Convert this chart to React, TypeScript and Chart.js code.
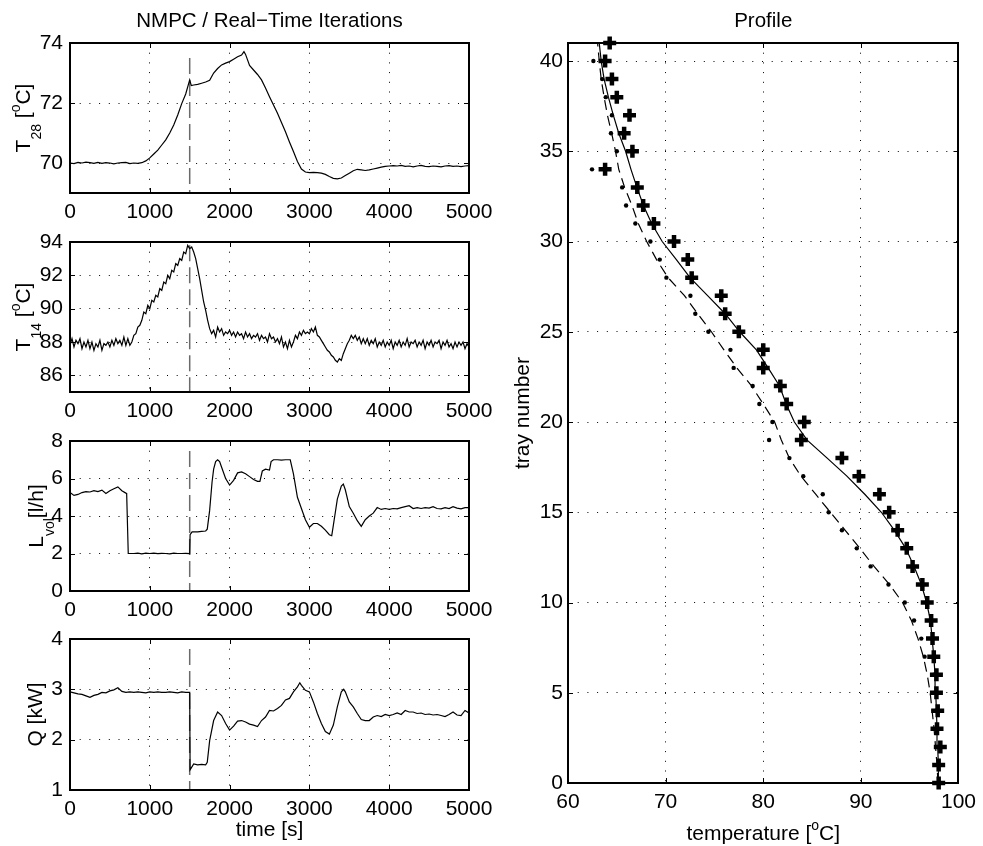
import React, { useEffect, useRef } from 'react';
import { Chart, registerables } from 'chart.js';

Chart.register(...registerables);

const FONT = "'Liberation Sans', Arial, Helvetica, sans-serif";
const TICK_SIZE = 21;

// ---------------- data: left column (time series) ----------------
const TIME_TICKS = [0, 1000, 2000, 3000, 4000, 5000];
const SWITCH_TIME = 1500;

const T28_TICKS = [70, 72, 74];
const T28_TIME = [
  0, 50, 100, 150, 200, 250, 300, 350, 400, 450, 500, 550, 600, 650, 700, 750, 800, 850, 900, 950,
  1000, 1050, 1100, 1150, 1200, 1250, 1300, 1350, 1400, 1450, 1500, 1520, 1550, 1600, 1650, 1700, 1750, 1800, 1850, 1900,
  1950, 2000, 2050, 2100, 2150, 2180, 2200, 2250, 2300, 2350, 2400, 2450, 2500, 2550, 2600, 2650, 2700, 2750, 2800, 2850,
  2900, 2950, 3000, 3050, 3100, 3150, 3200, 3250, 3300, 3350, 3400, 3450, 3500, 3550, 3600, 3650, 3700, 3750, 3800, 3850,
  3900, 3950, 4000, 4050, 4100, 4150, 4200, 4250, 4300, 4350, 4400, 4450, 4500, 4550, 4600, 4650, 4700, 4750, 4800, 4850,
  4900, 4950, 5000,
];
const T28_VALUES = [
  70.0, 69.98, 70.02, 70.0, 70.03, 70.01, 69.99, 70.02, 69.99, 70.01, 70.0, 69.97, 70.0, 70.01, 70.02, 69.98, 70.0, 69.99, 70.01, 70.07,
  70.17, 70.3, 70.43, 70.6, 70.77, 71.0, 71.27, 71.6, 71.98, 72.3, 72.77, 72.58, 72.6, 72.62, 72.66, 72.7, 72.76, 73.0, 73.15, 73.27,
  73.33, 73.38, 73.46, 73.54, 73.6, 73.71, 73.62, 73.25, 73.1, 72.95, 72.77, 72.5, 72.21, 71.93, 71.66, 71.35, 71.04, 70.7, 70.38, 70.05,
  69.8, 69.7, 69.68, 69.69, 69.68, 69.66, 69.62, 69.55, 69.49, 69.47, 69.5, 69.58, 69.66, 69.74, 69.79, 69.77, 69.75, 69.77, 69.8, 69.83,
  69.86, 69.89, 69.9, 69.91, 69.9, 69.92, 69.89, 69.9, 69.87, 69.9, 69.92, 69.89, 69.88, 69.9, 69.89, 69.87, 69.9, 69.91, 69.89, 69.9,
  69.88, 69.9, 69.91,
];

const T14_TICKS = [86, 88, 90, 92, 94];
const T14_TIME = [
  0, 25, 50, 75, 100, 125, 150, 175, 200, 225, 250, 275, 300, 325, 350, 375, 400, 425, 450, 475,
  500, 525, 550, 575, 600, 625, 650, 675, 700, 725, 750, 775, 800, 825, 850, 875, 900, 925, 950, 975,
  1000, 1025, 1050, 1075, 1100, 1125, 1150, 1175, 1200, 1225, 1250, 1275, 1300, 1325, 1350, 1375, 1400, 1425, 1450, 1475,
  1500, 1525, 1550, 1575, 1600, 1625, 1650, 1675, 1700, 1725, 1750, 1775, 1800, 1825, 1850, 1875, 1900, 1925, 1950, 1975,
  2000, 2025, 2050, 2075, 2100, 2125, 2150, 2175, 2200, 2225, 2250, 2275, 2300, 2325, 2350, 2375, 2400, 2425, 2450, 2475,
  2500, 2525, 2550, 2575, 2600, 2625, 2650, 2675, 2700, 2725, 2750, 2775, 2800, 2825, 2850, 2875, 2900, 2925, 2950, 2975,
  3000, 3025, 3050, 3075, 3100, 3125, 3150, 3175, 3200, 3225, 3250, 3275, 3300, 3325, 3350, 3375, 3400, 3425, 3450, 3475,
  3500, 3525, 3550, 3575, 3600, 3625, 3650, 3675, 3700, 3725, 3750, 3775, 3800, 3825, 3850, 3875, 3900, 3925, 3950, 3975,
  4000, 4025, 4050, 4075, 4100, 4125, 4150, 4175, 4200, 4225, 4250, 4275, 4300, 4325, 4350, 4375, 4400, 4425, 4450, 4475,
  4500, 4525, 4550, 4575, 4600, 4625, 4650, 4675, 4700, 4725, 4750, 4775, 4800, 4825, 4850, 4875, 4900, 4925, 4950, 4975,
  5000,
];
const T14_VALUES = [
  87.8, 88.2, 87.7, 88.1, 87.9, 88.2, 87.6, 88.0, 87.7, 88.1, 87.6, 88.0, 87.5, 87.9, 87.7, 88.1, 87.5, 87.9, 87.8, 88.0,
  87.7, 88.1, 87.8, 88.2, 87.9, 88.1, 87.8, 88.3, 87.8, 88.2, 87.8, 88.0, 88.4, 88.5, 88.9, 89.0, 89.3, 89.8, 89.7, 90.2,
  90.0, 90.5, 90.4, 90.8, 90.7, 91.2, 91.1, 91.6, 91.5, 92.0, 91.8, 92.3, 92.2, 92.7, 92.6, 93.0, 92.9, 93.4, 93.3, 93.8,
  93.6, 93.7, 93.4, 93.0, 92.4, 91.8, 91.1, 90.4, 89.9, 89.3, 88.8, 88.5, 88.7, 88.3, 88.9, 88.6, 88.8, 88.4, 88.6, 88.5,
  88.7, 88.4, 88.6, 88.3, 88.6, 88.4, 88.5, 88.2, 88.6, 88.3, 88.5, 88.2, 88.4, 88.3, 88.5, 88.1, 88.4, 88.2, 88.3, 88.0,
  88.5, 88.2, 88.3, 88.0, 88.2, 87.9, 88.3, 87.7, 88.0, 87.6, 88.1, 87.7, 88.0, 88.4, 88.2, 88.6, 88.4, 88.7, 88.5, 88.6,
  88.5, 88.8, 88.6, 88.9, 88.4, 88.3, 88.1, 87.9, 87.7, 87.5, 87.4, 87.2, 87.1, 86.9, 86.8, 87.0, 86.9, 87.3, 87.6, 87.9,
  88.1, 88.4, 88.2, 88.4, 88.1, 88.3, 87.9, 88.2, 87.9, 88.2, 87.8, 88.1, 87.9, 88.2, 87.7, 88.0, 87.8, 88.1, 87.7, 88.0,
  87.8, 88.1, 87.6, 88.0, 87.8, 88.1, 87.7, 88.0, 87.8, 88.2, 87.7, 88.0, 87.9, 88.1, 87.7, 88.0, 87.8, 88.1, 87.6, 88.0,
  87.8, 88.1, 87.7, 88.0, 87.9, 88.1, 87.6, 88.0, 87.8, 88.1, 87.7, 87.9, 87.6, 88.0, 87.7, 88.0, 87.8, 88.0, 87.6, 87.9,
  87.7,
];

const LVOL_TICKS = [0, 2, 4, 6, 8];
const LVOL_TIME = [
  0, 50, 100, 150, 200, 250, 300, 350, 400, 450, 500, 550, 600, 650, 700, 710, 730, 800, 850, 900,
  950, 1000, 1050, 1100, 1150, 1200, 1250, 1300, 1350, 1400, 1450, 1500, 1505, 1530, 1600, 1650, 1700, 1720, 1750, 1780,
  1800, 1825, 1850, 1875, 1900, 1950, 2000, 2050, 2100, 2150, 2200, 2250, 2300, 2350, 2380, 2410, 2450, 2500, 2520, 2550,
  2600, 2650, 2700, 2760, 2800, 2850, 2900, 2950, 3000, 3050, 3100, 3150, 3200, 3250, 3280, 3300, 3350, 3400, 3425, 3450,
  3500, 3550, 3600, 3650, 3700, 3750, 3800, 3850, 3900, 3950, 4000, 4050, 4100, 4150, 4200, 4250, 4300, 4350, 4400, 4450,
  4500, 4550, 4600, 4650, 4700, 4750, 4800, 4850, 4900, 4950, 5000,
];
const LVOL_VALUES = [
  5.25, 5.1, 5.15, 5.25, 5.3, 5.28, 5.35, 5.3, 5.38, 5.2, 5.35, 5.45, 5.55, 5.35, 5.22, 5.2, 2.0, 2.0, 2.02, 1.98,
  2.02, 2.0, 2.02, 1.99, 2.01, 2.0, 1.98, 2.02, 2.0, 2.0, 2.01, 2.0, 3.0, 3.15, 3.15, 3.18, 3.2, 3.3, 4.3, 5.8,
  6.5, 6.9, 7.0, 6.9, 6.6, 6.0, 5.65, 5.9, 6.3, 6.35, 6.25, 6.1, 5.95, 5.85, 5.85, 6.4, 6.5, 6.45, 6.9, 7.0,
  7.0, 6.98, 7.0, 7.0, 6.25, 5.0, 4.4, 3.8, 3.4, 3.6, 3.6, 3.45, 3.25, 3.0, 2.95, 3.5, 4.9, 5.6, 5.7, 5.4,
  4.5, 4.15, 3.75, 3.45, 3.8, 4.0, 4.15, 4.45, 4.35, 4.4, 4.35, 4.4, 4.38, 4.45, 4.5, 4.55, 4.4, 4.45, 4.4, 4.45,
  4.42, 4.5, 4.4, 4.38, 4.45, 4.4, 4.5, 4.42, 4.38, 4.45, 4.45,
];

const Q_TICKS = [1, 2, 3, 4];
const Q_TIME = [
  0, 50, 100, 150, 200, 250, 300, 350, 400, 450, 500, 550, 600, 650, 700, 750, 800, 850, 900, 950,
  1000, 1050, 1100, 1150, 1200, 1250, 1300, 1350, 1400, 1450, 1500, 1505, 1550, 1600, 1650, 1700, 1720, 1750, 1800, 1850,
  1900, 1950, 2000, 2050, 2100, 2150, 2200, 2250, 2300, 2350, 2400, 2450, 2500, 2550, 2600, 2650, 2700, 2750, 2800, 2850,
  2880, 2900, 2950, 3000, 3050, 3100, 3150, 3200, 3250, 3300, 3350, 3400, 3430, 3450, 3500, 3550, 3600, 3650, 3700, 3750,
  3800, 3850, 3900, 3950, 4000, 4050, 4100, 4150, 4200, 4250, 4300, 4350, 4400, 4450, 4500, 4550, 4600, 4650, 4700, 4750,
  4800, 4850, 4900, 4950, 5000,
];
const Q_VALUES = [
  2.95, 2.93, 2.91, 2.9, 2.87, 2.84, 2.88, 2.9, 2.94, 2.93, 2.97, 2.99, 3.03, 2.96, 2.94, 2.95, 2.94, 2.95, 2.94, 2.93,
  2.95, 2.94, 2.95, 2.94, 2.94, 2.95, 2.94, 2.93, 2.95, 2.94, 2.94, 1.4, 1.52, 1.5, 1.51, 1.5, 1.55, 1.98, 2.38, 2.55,
  2.48, 2.32, 2.19, 2.27, 2.37, 2.38, 2.35, 2.31, 2.29, 2.26, 2.38, 2.45, 2.58, 2.57, 2.62, 2.68, 2.79, 2.82, 2.95, 3.05,
  3.13, 3.08, 2.98, 2.95, 2.75, 2.52, 2.32, 2.16, 2.11, 2.29, 2.65, 2.95, 3.0, 2.95, 2.75, 2.65, 2.52, 2.4, 2.38, 2.38,
  2.45, 2.48, 2.46, 2.5, 2.48, 2.5, 2.53, 2.5, 2.58, 2.55, 2.55, 2.52, 2.53, 2.5, 2.51, 2.49, 2.5, 2.48, 2.46, 2.5,
  2.55, 2.49, 2.48, 2.58, 2.53,
];

// top end of the dashed switch marker in each panel
const MARK_TOP = [73.5, 93.8, 7.47, 3.8];

// ---------------- data: right column (profile) ----------------
const TEMP_TICKS = [60, 70, 80, 90, 100];
const TRAY_TICKS = [0, 5, 10, 15, 20, 25, 30, 35, 40];
const TRAYS = [
  0, 1, 2, 3, 4, 5, 6, 7, 8, 9, 10, 11, 12, 13, 14, 15, 16, 17, 18, 19, 20,
  21, 22, 23, 24, 25, 26, 27, 28, 29, 30, 31, 32, 33, 34, 35, 36, 37, 38, 39, 40, 41,
];
const MODEL_NEW = [
  98.0, 97.94, 97.87, 97.8, 97.74, 97.67, 97.6, 97.47, 97.3, 97.13, 96.73, 96.2, 95.45, 94.6, 93.44, 92.1, 90.4, 88.57, 86.55, 84.5, 83.19,
  82.35, 81.67, 80.5, 79.3, 77.58, 76.1, 74.3, 72.5, 71.1, 69.65, 68.57, 67.73, 67.06, 66.45, 65.9, 65.2, 64.64, 64.14, 63.7, 63.4, 63.2,
];
const MODEL_OLD = [
  97.9, 97.8, 97.65, 97.5, 97.3, 97.1, 96.8, 96.4, 95.85, 95.18, 94.27, 92.93, 91.35, 89.9, 88.4, 86.88, 85.37, 83.86, 82.68, 81.85, 81.17,
  80.0, 78.8, 77.3, 75.97, 74.69, 73.28, 71.93, 70.25, 69.07, 68.06, 67.2, 66.55, 65.8, 65.2, 64.87, 64.47, 64.04, 63.7, 63.4, 63.2, 63.03,
];
const MEAS_NEW = [
  97.97, 97.97, 98.14, 97.8, 97.87, 97.74, 97.74, 97.47, 97.34, 97.2, 96.8, 96.3, 95.3, 94.7, 93.77, 92.9, 91.9, 89.8, 88.06, 83.9, 84.2,
  82.4, 81.75, 80.0, 80.0, 77.5, 76.1, 75.7, 72.67, 72.27, 70.86, 68.8, 67.7, 67.1, 63.8, 66.6, 65.75, 66.3, 65.0, 64.5, 63.8, 64.27,
];
const MEAS_OLD = [
  97.95, 97.9, 97.9, 97.75, 97.7, 97.6, 97.5, 96.53, 96.19, 95.45, 94.5, 92.83, 91.0, 89.58, 88.06, 86.7, 86.1, 84.1, 82.68, 80.6, 80.94,
  79.6, 78.92, 76.97, 76.64, 74.38, 73.04, 72.54, 70.08, 69.4, 68.44, 66.9, 65.95, 65.55, 62.46, 65.0, 64.4, 64.5, 63.87, 63.5, 62.6,
];

// ---------------- helpers ----------------
type Seg = { t: string; k?: 'sub' | 'sup' };

const pairs = (xs: number[], ys: number[]) => {
  const n = Math.min(xs.length, ys.length);
  const out: { x: number; y: number }[] = [];
  for (let i = 0; i < n; i++) out.push({ x: xs[i], y: ys[i] });
  return out;
};

function drawRich(ctx: CanvasRenderingContext2D, segs: Seg[], x: number, y: number, rotate: boolean, size: number) {
  const small = Math.round(size * 0.68);
  ctx.save();
  ctx.translate(x, y);
  if (rotate) ctx.rotate(-Math.PI / 2);
  ctx.textBaseline = 'alphabetic';
  ctx.textAlign = 'left';
  ctx.fillStyle = '#000';
  let total = 0;
  const widths = segs.map((s) => {
    ctx.font = `${s.k ? small : size}px ${FONT}`;
    const w = ctx.measureText(s.t).width;
    total += w;
    return w;
  });
  let cx = -total / 2;
  segs.forEach((s, i) => {
    ctx.font = `${s.k ? small : size}px ${FONT}`;
    const dy = s.k === 'sub' ? 11 : s.k === 'sup' ? -10 : 0;
    ctx.fillText(s.t, cx, dy);
    cx += widths[i];
  });
  ctx.restore();
}

interface Panel {
  box: { left: number; top: number; width: number; height: number };
  area: { l: number; t: number; r: number; b: number };
  xMin: number; xMax: number; xTicks: number[];
  yMin: number; yMax: number; yTicks: number[];
  yTickPad: number;
  datasets: any[];
  yTitle: { segs: Seg[]; x: number };
  xTitle?: { segs: Seg[]; y: number };
  title?: { text: string; y: number };
}

function decor(p: Panel) {
  return {
    id: 'decor',
    afterDraw(chart: any) {
      const ctx: CanvasRenderingContext2D = chart.ctx;
      const a = chart.chartArea;
      const xs = chart.scales.x;
      const ys = chart.scales.y;
      const ox = p.box.left;
      const oy = p.box.top;
      ctx.save();
      ctx.strokeStyle = '#000';
      ctx.lineWidth = 1;
      ctx.beginPath();
      p.xTicks.forEach((v) => {
        const q = Math.round(xs.getPixelForValue(v)) + 0.5;
        ctx.moveTo(q, a.bottom); ctx.lineTo(q, a.bottom - 5);
        ctx.moveTo(q, a.top); ctx.lineTo(q, a.top + 5);
      });
      p.yTicks.forEach((v) => {
        const q = Math.round(ys.getPixelForValue(v)) + 0.5;
        ctx.moveTo(a.left, q); ctx.lineTo(a.left + 5, q);
        ctx.moveTo(a.right, q); ctx.lineTo(a.right - 5, q);
      });
      ctx.stroke();
      ctx.lineWidth = 2;
      ctx.strokeRect(Math.round(a.left), Math.round(a.top), Math.round(a.right - a.left), Math.round(a.bottom - a.top));
      ctx.restore();

      const cxPlot = (a.left + a.right) / 2;
      const cyPlot = (a.top + a.bottom) / 2;
      drawRich(ctx, p.yTitle.segs, p.yTitle.x - ox, cyPlot, true, TICK_SIZE);
      if (p.xTitle) drawRich(ctx, p.xTitle.segs, cxPlot, p.xTitle.y - oy, false, TICK_SIZE);
      if (p.title) {
        ctx.save();
        ctx.font = `20.5px ${FONT}`;
        ctx.fillStyle = '#000';
        ctx.textAlign = 'center';
        ctx.textBaseline = 'alphabetic';
        ctx.fillText(p.title.text, cxPlot, p.title.y - oy);
        ctx.restore();
      }
    },
  };
}

function makeChart(canvas: HTMLCanvasElement, p: Panel) {
  const yWidth = p.area.l - p.box.left;
  const xHeight = p.box.top + p.box.height - p.area.b;
  const tickFont = { family: FONT, size: TICK_SIZE };
  return new Chart(canvas, {
    type: 'scatter',
    data: { datasets: p.datasets },
    options: {
      animation: false,
      responsive: false,
      devicePixelRatio: 1,
      events: [],
      layout: {
        padding: { left: 0, top: p.area.t - p.box.top, right: p.box.left + p.box.width - p.area.r, bottom: 0 },
      },
      plugins: { legend: { display: false }, tooltip: { enabled: false }, title: { display: false } },
      scales: {
        x: {
          type: 'linear', position: 'bottom', min: p.xMin, max: p.xMax,
          afterBuildTicks: (s: any) => { s.ticks = p.xTicks.map((v) => ({ value: v })); },
          afterFit: (s: any) => { s.height = xHeight; },
          ticks: { font: tickFont, color: '#000', padding: 7, autoSkip: false, maxRotation: 0, minRotation: 0, callback: (v: any) => String(v) },
          grid: { color: '#000', lineWidth: 1, drawTicks: false },
          border: { display: false, dash: [1, 8.7] },
        },
        y: {
          type: 'linear', position: 'left', min: p.yMin, max: p.yMax,
          afterBuildTicks: (s: any) => { s.ticks = p.yTicks.map((v) => ({ value: v })); },
          afterFit: (s: any) => { s.width = yWidth; },
          ticks: { font: tickFont, color: '#000', padding: p.yTickPad, autoSkip: false, callback: (v: any) => String(v) },
          grid: { color: '#000', lineWidth: 1, drawTicks: false },
          border: { display: false, dash: [1, 8.7] },
        },
      },
    } as any,
    plugins: [decor(p) as any],
  });
}

const lineDs = (data: any[]) => ({
  data, showLine: true, borderColor: '#000', borderWidth: 1.2, pointRadius: 0, tension: 0, fill: false,
});
const markDs = (top: number, bottom: number) => ({
  data: [{ x: SWITCH_TIME, y: top }, { x: SWITCH_TIME, y: bottom }],
  showLine: true, borderColor: '#6a6a6a', borderWidth: 1.5, borderDash: [16, 6], pointRadius: 0,
});

const LEFT_L = 70;
const LEFT_R = 469;
const LEFT_TOPS = [43, 242, 441, 639];
const LEFT_BOTTOMS = [193, 392, 591, 790];

function buildPanels(): Panel[] {
  const leftBox = (i: number) => {
    const top = i === 0 ? 0 : LEFT_TOPS[i] - 30;
    const bottom = i === 3 ? 846 : LEFT_BOTTOMS[i] + 42;
    return { left: 0, top, width: 500, height: bottom - top };
  };
  const leftArea = (i: number) => ({ l: LEFT_L, t: LEFT_TOPS[i], r: LEFT_R, b: LEFT_BOTTOMS[i] });
  return [
    {
      box: leftBox(0), area: leftArea(0), xMin: 0, xMax: 5000, xTicks: TIME_TICKS,
      yMin: 69, yMax: 74, yTicks: T28_TICKS, yTickPad: 7,
      datasets: [lineDs(pairs(T28_TIME, T28_VALUES)), markDs(MARK_TOP[0], 69)],
      yTitle: { segs: [{ t: 'T' }, { t: '28', k: 'sub' }, { t: ' [' }, { t: 'o', k: 'sup' }, { t: 'C]' }], x: 30 },
      title: { text: 'NMPC / Real\u2212Time Iterations', y: 27 },
    },
    {
      box: leftBox(1), area: leftArea(1), xMin: 0, xMax: 5000, xTicks: TIME_TICKS,
      yMin: 85, yMax: 94, yTicks: T14_TICKS, yTickPad: 7,
      datasets: [lineDs(pairs(T14_TIME, T14_VALUES)), markDs(MARK_TOP[1], 85)],
      yTitle: { segs: [{ t: 'T' }, { t: '14', k: 'sub' }, { t: ' [' }, { t: 'o', k: 'sup' }, { t: 'C]' }], x: 30 },
    },
    {
      box: leftBox(2), area: leftArea(2), xMin: 0, xMax: 5000, xTicks: TIME_TICKS,
      yMin: 0, yMax: 8, yTicks: LVOL_TICKS, yTickPad: 7,
      datasets: [lineDs(pairs(LVOL_TIME, LVOL_VALUES)), markDs(MARK_TOP[2], 0)],
      yTitle: { segs: [{ t: 'L' }, { t: 'vol', k: 'sub' }, { t: '[l/h]' }], x: 43 },
    },
    {
      box: leftBox(3), area: leftArea(3), xMin: 0, xMax: 5000, xTicks: TIME_TICKS,
      yMin: 1, yMax: 4, yTicks: Q_TICKS, yTickPad: 7,
      datasets: [lineDs(pairs(Q_TIME, Q_VALUES)), markDs(MARK_TOP[3], 1)],
      yTitle: { segs: [{ t: 'Q [kW]' }], x: 42 },
      xTitle: { segs: [{ t: 'time [s]' }], y: 836 },
    },
    {
      box: { left: 490, top: 0, width: 493, height: 846 },
      area: { l: 568, t: 43, r: 965, b: 783 },
      xMin: 60, xMax: 100, xTicks: TEMP_TICKS,
      yMin: 0, yMax: 41, yTicks: TRAY_TICKS, yTickPad: 5,
      datasets: [
        {
          data: pairs(MEAS_NEW, TRAYS), showLine: false, pointStyle: 'cross', pointRadius: 6.5,
          pointBorderWidth: 4.5, borderWidth: 4.5, borderColor: '#000', backgroundColor: '#000', clip: false,
        },
        {
          data: pairs(MEAS_OLD, TRAYS), showLine: false, pointStyle: 'circle', pointRadius: 2.2,
          pointBorderWidth: 0, borderWidth: 0, backgroundColor: '#000', borderColor: '#000', clip: false,
        },
        lineDs(pairs(MODEL_NEW, TRAYS)),
        { ...lineDs(pairs(MODEL_OLD, TRAYS)), borderDash: [10, 6] },
      ],
      yTitle: { segs: [{ t: 'tray number' }], x: 529 },
      xTitle: { segs: [{ t: 'temperature [' }, { t: 'o', k: 'sup' }, { t: 'C]' }], y: 840 },
      title: { text: 'Profile', y: 27 },
    },
  ];
}

const PANELS = buildPanels();

export default function App() {
  const refs = useRef<(HTMLCanvasElement | null)[]>([]);
  useEffect(() => {
    const charts = PANELS.map((p, i) => makeChart(refs.current[i] as HTMLCanvasElement, p));
    return () => charts.forEach((c) => c.destroy());
  }, []);
  return (
    <div style={{ position: 'fixed', left: 0, top: 0, width: 983, height: 846, background: '#fff', overflow: 'hidden' }}>
      {PANELS.map((p, i) => (
        <canvas
          key={i}
          ref={(el) => { refs.current[i] = el; }}
          width={p.box.width}
          height={p.box.height}
          style={{ position: 'absolute', left: p.box.left, top: p.box.top, width: p.box.width, height: p.box.height }}
        />
      ))}
    </div>
  );
}
